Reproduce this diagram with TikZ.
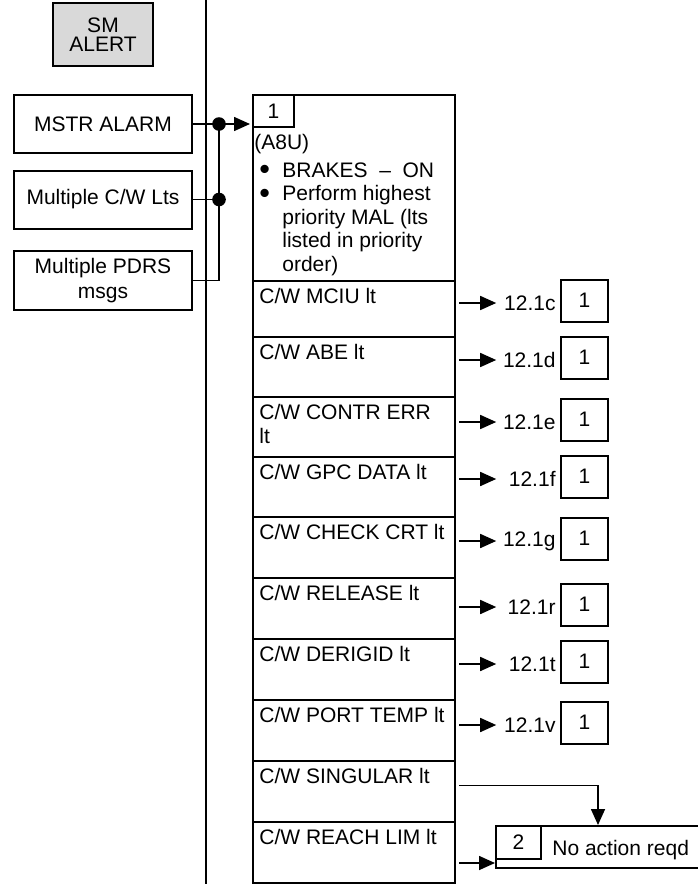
\documentclass[tikz,border=0pt]{standalone}
\usepackage{fontspec}
\setmainfont{Liberation Sans}
\usetikzlibrary{arrows.meta,positioning}
\newcommand{\bigdot}{\makebox[14pt][l]{\hspace{2.5pt}\raisebox{-1.2pt}{\scalebox{1.45}{•}}}}
\tikzset{
    panel box/.style={
        draw,line width=1pt,
        inner sep=0pt,align=center
    },
    cw row/.style={
        draw,line width=1pt,
        minimum width=101pt,anchor=north west,inner sep=0pt
    },
    row text/.style={anchor=north west,inner xsep=3.5pt,inner ysep=4pt,align=left},
    ref box/.style={draw,line width=1pt,minimum width=23.5pt,minimum height=21pt,inner sep=0pt},
    ref label/.style={anchor=east,text width=27pt,align=right,inner xsep=2.5pt,inner ysep=0pt},
    link/.style={line width=0.8pt},
    >={Triangle[length=8pt,width=7pt]}
}
\begin{document}
\begin{tikzpicture}[x=0.5pt,y=-0.5pt,font=\fontsize{10.5}{12}\selectfont]
\useasboundingbox (0,0) rectangle (697,884);
\draw[line width=0.8pt] (206,0) -- (206,884);

% left panel
\node[panel box,fill=gray!30,minimum width=50pt,minimum height=31.5pt,font=\fontsize{10.5}{9.5}\selectfont] (alert) at (103,34.5) {SM\\ALERT};
\node[panel box,minimum width=89pt,minimum height=29pt] (mstr) at (103,124) {MSTR ALARM};
\node[panel box,minimum width=89pt,minimum height=29pt] (multcw) at (103,199.5) {Multiple C/W Lts};
\node[panel box,minimum width=89pt,minimum height=29.5pt,font=\fontsize{10.5}{12.5}\selectfont] (pdrs) at (103,280.5) {Multiple PDRS\\msgs};

% procedure box
\node[cw row,minimum height=93pt] (brief) at (252,94) {};
\node[ref box,anchor=north west,minimum width=20.5pt,minimum height=16pt] (num1) at (brief.north west) {1};
\node[anchor=north west,inner sep=0pt,align=left,font=\fontsize{10.5}{11.75}\selectfont] (brieftext) at (254,134)
    {(A8U)\\[2pt]
     \bigdot BRAKES\ \ --\ \ ON\\
     \bigdot Perform highest\\
     \hspace*{14pt}priority MAL (lts\\
     \hspace*{14pt}listed in priority\\
     \hspace*{14pt}order)};
\foreach \name/\top/\h/\txt in {mciu/280/28/{C/W MCIU lt},abe/336/30/{C/W ABE lt},contr/396/30/{C/W CONTR ERR\\lt},
    gpc/456/30/{C/W GPC DATA lt},check/516/30.5/{C/W CHECK CRT lt},release/577/30.5/{C/W RELEASE lt},
    derigid/638/30.5/{C/W DERIGID lt},port/699/30.5/{C/W PORT TEMP lt},singular/760/30.5/{C/W SINGULAR lt},
    reach/821/30.5/{C/W REACH LIM lt}}
    \node[cw row,minimum height=\h pt,label={[row text]north west:\txt}] (\name) at (252,\top) {};

\foreach \name/\ay/\sub in {mciu/303/c,abe/360/d,contr/422/e,gpc/479/f,check/541/g,release/607/r,derigid/664/t,port/725/v}{
    \node[ref box] (ref-\sub) at (584.5,\ay-2.5) {1};
    \node[ref label] (lbl-\sub) at (561,\ay) {12.1\sub};
    \draw[link,->,shorten <=1.5pt] (\name.east |- lbl-\sub.west) -- (lbl-\sub.west);
}

% junctions
\coordinate (j1) at (219,124);
\coordinate (j2) at (219,199.5);
\draw[link] (mstr.east) -- (j1);
\draw[link] (multcw.east) -- (j2);
\draw[link] (pdrs.east) -| (j1);
\fill (j1) circle (3.4pt) (j2) circle (3.4pt);
\draw[link,->,shorten >=1pt] (j1) -- (j1 -| brief.west);

% no action
\node[panel box,minimum width=102pt,minimum height=21pt,anchor=north west] (noact) at (495,825) {};
\node[ref box,anchor=north west,minimum width=22.5pt,minimum height=16.5pt] (num2) at (noact.north west) {2};
\node[anchor=west,inner sep=0pt] (noacttext) at (552,850) {No action reqd};
\draw[link,->,shorten <=1.5pt] ([yshift=3pt]singular.east) -| (noact.north);
\coordinate (reacharr) at ([yshift=-5.25pt]reach.east);
\draw[link,->,shorten <=1.5pt] (reacharr) -- (reacharr -| noact.west);
\end{tikzpicture}
\end{document}
